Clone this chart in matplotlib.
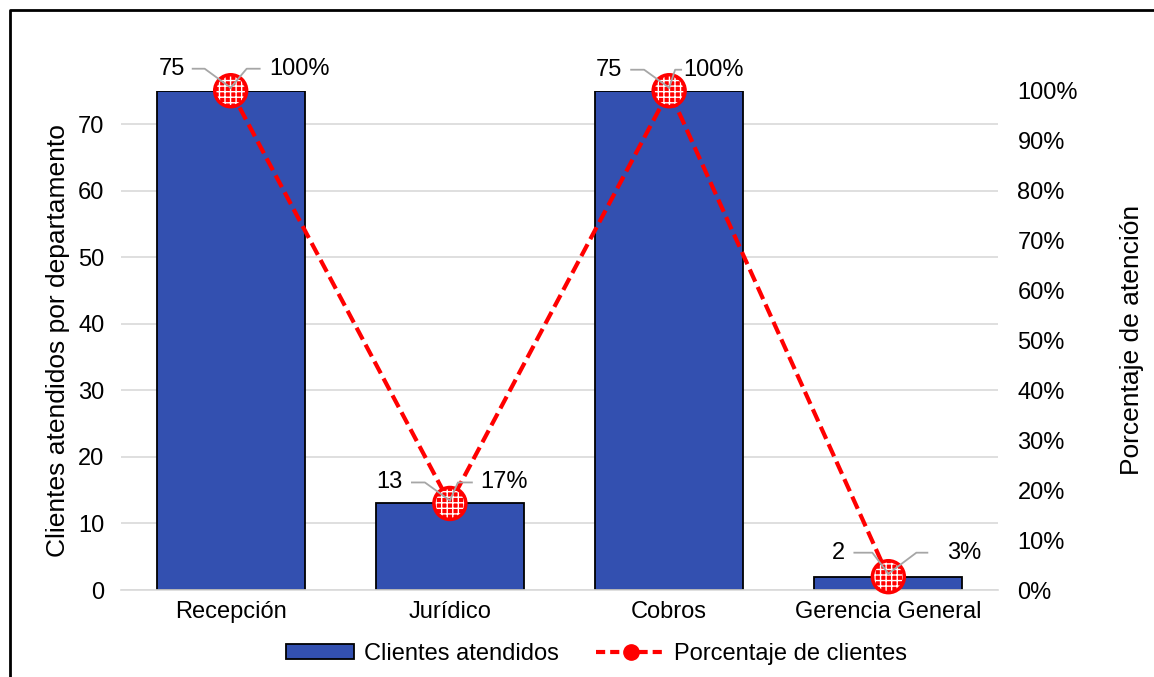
import numpy as np
import matplotlib
matplotlib.use("Agg")
import matplotlib.pyplot as plt
from matplotlib.lines import Line2D
from matplotlib.patches import Patch
from matplotlib.transforms import IdentityTransform
from matplotlib.ticker import PercentFormatter

plt.rcParams['font.family'] = ['Liberation Sans', 'DejaVu Sans']

departamentos = ['Recepción', 'Jurídico', 'Cobros', 'Gerencia General']
clientes = [75, 13, 75, 2]
total = 75
porcentaje = [c / total for c in clientes]
pct_labels = ['100%', '17%', '100%', '3%']

# label placement per point, in pixels relative to the marker centre
# (left text right edge, left leader start, left leader corner, right corner, right end, right text start, dy)
offs = [
    (-46, -38, -26, 16, 29, 39, 22),
    (-47, -38, -25, 8, 22, 30, 21),
    (-47, -38, -25, 6, 12, 14, 21),
    (-43, -34, -16, 28, 39, 59, 24),
]

bar_col = '#3350B0'
red = '#FF0000'
grid_col = '#D9D9D9'
gray = '#A6A6A6'
fs = 17

fig = plt.figure(figsize=(11.54, 6.77), dpi=100)
ax = fig.add_axes([0.1049, 0.1285, 0.7599, 0.7375])
ax2 = ax.twinx()

x = np.arange(len(departamentos))
ax.bar(x, clientes, width=0.676, color=bar_col, edgecolor='black', linewidth=1.3, zorder=2)
ax.set_xlim(-0.5, len(departamentos) - 0.5)
ax.set_ylim(0, 75)
ax.set_yticks(range(0, 71, 10))
ax.set_xticks(x)
ax.set_xticklabels(departamentos, fontsize=fs)
ax.tick_params(axis='y', labelsize=fs, length=0, pad=12)
ax.tick_params(axis='x', length=0, pad=8)
ax.grid(axis='y', color=grid_col, linewidth=1.2, zorder=0)
ax.set_axisbelow(True)
for s in ax.spines.values():
    s.set_visible(False)
ax.spines['bottom'].set_visible(True)
ax.spines['bottom'].set_color(grid_col)
ax.spines['bottom'].set_linewidth(1.2)
ax.set_ylabel('Clientes atendidos por departamento', fontsize=19, labelpad=6)

ax2.plot(x, porcentaje, color=red, linestyle=(0, (3.2, 1.4)), linewidth=3, zorder=3, clip_on=False)
ax2.scatter(x, porcentaje, s=23 ** 2, facecolor=red, edgecolor='white', hatch='+++',
            linewidth=0, zorder=4, clip_on=False)
ax2.scatter(x, porcentaje, s=23 ** 2, facecolor='none', edgecolor=red,
            linewidth=2.5, zorder=4, clip_on=False)
ax2.set_ylim(0, 1.0)
ax2.set_yticks(np.arange(0, 1.01, 0.1))
ax2.yaxis.set_major_formatter(PercentFormatter(1.0, decimals=0))
ax2.tick_params(axis='y', labelsize=fs, length=0, pad=14)
for s in ax2.spines.values():
    s.set_visible(False)
ax2.set_ylabel('Porcentaje de atención', fontsize=19, labelpad=30)

# data labels with leader lines
for i in range(len(departamentos)):
    px, py = ax2.transData.transform((x[i], porcentaje[i]))
    lt, l0, l1, r0, r1, rt, dy = offs[i]
    yl = py + dy
    fig.add_artist(Line2D([px + l0, px + l1, px], [yl, yl, py + 3], transform=IdentityTransform(),
                          color=gray, linewidth=1.3, zorder=5))
    fig.add_artist(Line2D([px, px + r0, px + r1], [py + 3, yl, yl], transform=IdentityTransform(),
                          color=gray, linewidth=1.3, zorder=5))
    ax2.annotate(str(clientes[i]), xy=(x[i], porcentaje[i]), xytext=(lt, dy),
                 textcoords='offset pixels', ha='right', va='center', fontsize=fs, zorder=6)
    ax2.annotate(pct_labels[i], xy=(x[i], porcentaje[i]), xytext=(rt, dy),
                 textcoords='offset pixels', ha='left', va='center', fontsize=fs, zorder=6)

handles = [
    Patch(facecolor=bar_col, edgecolor='black', linewidth=1.3, label='Clientes atendidos'),
    Line2D([0], [0], color=red, linestyle=(0, (2.2, 1.2)), linewidth=3, marker='o',
           markersize=11, markerfacecolor=red, markeredgecolor=red, label='Porcentaje de clientes'),
]
fig.legend(handles=handles, loc='center', bbox_to_anchor=(0.517, 0.034), ncol=2, frameon=False,
           fontsize=fs, handlelength=2.9, handleheight=0.6, columnspacing=1.6, handletextpad=0.4)

# chart frame (left and top edges visible)
fig.add_artist(Line2D([10, 10, 1154], [0, 667, 667], transform=IdentityTransform(),
                      color='black', linewidth=2))

fig.savefig('out.png', dpi=100)
